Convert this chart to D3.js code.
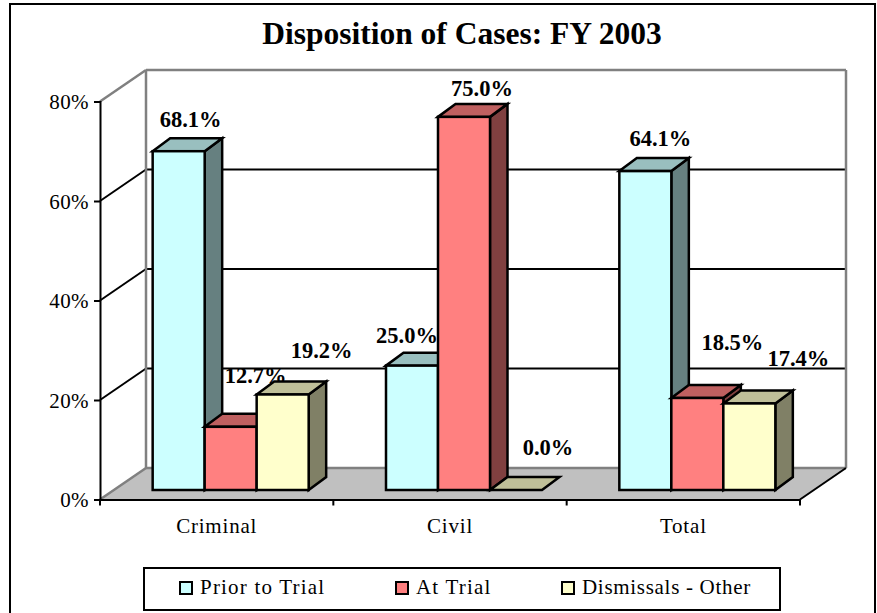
<!DOCTYPE html>
<html>
<head>
<meta charset="utf-8">
<title>Disposition of Cases: FY 2003</title>
<script src="https://cdn.jsdelivr.net/npm/d3@7"></script>
<style>
    html, body { margin: 0; padding: 0; background: white; }
    svg { display: block; }
    text { font-family: "Liberation Serif", "Times New Roman", serif; fill: #000; }
</style>
</head>
<body>
<div id="chart"></div>
<script>
const categories = ['Criminal', 'Civil', 'Total'];
const seriesNames = ['Prior to Trial', 'At Trial', 'Dismissals - Other'];
const priorToTrial = [68.1, 25.0, 64.1];
const atTrial = [12.7, 75.0, 18.5];
const dismissals = [19.2, 0.0, 17.4];
const yTicks = [0, 20, 40, 60, 80];

const seriesValues = [priorToTrial, atTrial, dismissals];
const seriesColors = ['#ccffff', '#ff8080', '#ffffcc'];

// hand placed data labels in the original, offset from the bar's top front-left corner
const labelNudge = [
    [[38, -24], [51, -44], [65, -36]],
    [[21, -23], [44, -21], [58, -35]],
    [[41, -25], [61, -48], [75, -37]]
];

let width = 877;
let height = 613;

// 3d look: the floor and wall sit up and to the right of the front plane
const depthX = 46;
const depthY = -31.5;
const barDepthX = 17.5;
const barDepthY = -13;
const barInsetX = 14;
const barInsetY = -9.5;

let svg = d3.select('#chart')
    .append('svg')
    .attr('width', width)
    .attr('height', height);

let x = d3.scaleBand().domain(categories).range([100, 800]);
let y = d3.scaleLinear().domain([0, 80]).range([499.5, 101.5]);
let xInner = d3.scaleBand().domain(d3.range(seriesNames.length)).range([0, 156]);

// chart border, open at the bottom because the picture is cut off there
svg.append('path')
    .attr('d', `M10,${height + 2}V4H875V${height + 2}`)
    .attr('fill', 'none')
    .attr('stroke', '#000')
    .attr('stroke-width', 2);

svg.append('text')
    .attr('x', 462)
    .attr('y', 44)
    .attr('text-anchor', 'middle')
    .attr('font-size', 31.5)
    .attr('font-weight', 'bold')
    .text('Disposition of Cases: FY 2003');

// floor
svg.append('polygon')
    .attr('points', [[100, y(0)], [100 + depthX, y(0) + depthY], [800 + depthX, y(0) + depthY], [800, y(0)]].join(' '))
    .attr('fill', '#c0c0c0');

// gridlines along the side wall and the back wall
let grid = svg.append('g');
yTicks.forEach(t => {
    let gy = y(t);
    let edge = t === 0 || t === 80;
    grid.append('line')
        .attr('x1', 100).attr('y1', gy)
        .attr('x2', 100 + depthX).attr('y2', gy + depthY)
        .attr('stroke', edge ? '#808080' : '#000')
        .attr('stroke-width', edge ? 2.5 : 2);
    grid.append('line')
        .attr('x1', 100 + depthX).attr('y1', gy + depthY)
        .attr('x2', 800 + depthX).attr('y2', gy + depthY)
        .attr('stroke', edge ? '#808080' : '#000')
        .attr('stroke-width', edge ? 2.5 : 2);
});
grid.append('path')
    .attr('d', `M${100 + depthX},${y(80) + depthY}V${y(0) + depthY}`)
    .attr('stroke', '#808080')
    .attr('stroke-width', 2.5);
grid.append('path')
    .attr('d', `M${800 + depthX},${y(80) + depthY}V${y(0) + depthY}`)
    .attr('fill', 'none')
    .attr('stroke', '#808080')
    .attr('stroke-width', 2.5);
grid.append('line')
    .attr('x1', 800).attr('y1', y(0))
    .attr('x2', 800 + depthX).attr('y2', y(0) + depthY)
    .attr('stroke', '#000')
    .attr('stroke-width', 2);

// axes
let yAxis = d3.axisLeft(y).tickValues(yTicks).tickFormat(d => d + '%').tickSize(6).tickPadding(5);
let gy = svg.append('g').attr('transform', 'translate(100,0)').call(yAxis);
gy.selectAll('text').attr('font-size', 21).style('letter-spacing', '0.4px').attr('dy', '0.34em');
gy.selectAll('path, line').attr('stroke', '#000').attr('stroke-width', 2);

let xAxis = d3.axisBottom(x).tickSize(0).tickPadding(19);
let gx = svg.append('g').attr('transform', `translate(0,${y(0)})`).call(xAxis);
gx.selectAll('text').attr('font-size', 21).style('letter-spacing', '0.8px');
gx.select('.domain').attr('stroke', '#000').attr('stroke-width', 2);
gx.selectAll('.tick line').remove();
gx.selectAll('.xtick')
    .data(categories.map(c => x(c)).concat(800))
    .enter().append('line')
    .attr('x1', d => d).attr('x2', d => d)
    .attr('y1', 0).attr('y2', 6)
    .attr('stroke', '#000')
    .attr('stroke-width', 2);

function shade(color, k) {
    let c = d3.rgb(color);
    return d3.rgb(c.r * k, c.g * k, c.b * k).formatHex();
}

// bars go left to right, each label right after its bar so the next bar can cover it
let base = y(0) + barInsetY;
categories.forEach((cat, ci) => {
    let left = x(cat) + barInsetX + (x.bandwidth() - xInner.range()[1]) / 2;
    seriesNames.forEach((name, si) => {
        let v = seriesValues[si][ci];
        let x0 = left + xInner(si);
        let x1 = x0 + xInner.bandwidth();
        let top = base + (y(v) - y(0));
        let g = svg.append('g')
            .attr('stroke', '#000')
            .attr('stroke-width', 2.5)
            .attr('stroke-linejoin', 'miter');

        if (v > 0) {
            g.append('polygon')
                .attr('points', [[x1, top], [x1 + barDepthX, top + barDepthY], [x1 + barDepthX, base + barDepthY], [x1, base]].join(' '))
                .attr('fill', shade(seriesColors[si], 0.5));
        }
        g.append('polygon')
            .attr('points', [[x0, top], [x0 + barDepthX, top + barDepthY], [x1 + barDepthX, top + barDepthY], [x1, top]].join(' '))
            .attr('fill', shade(seriesColors[si], 0.75));
        if (v > 0) {
            g.append('rect')
                .attr('x', x0)
                .attr('y', top)
                .attr('width', x1 - x0)
                .attr('height', base - top)
                .attr('fill', seriesColors[si]);
        }

        svg.append('text')
            .attr('x', x0 + labelNudge[ci][si][0])
            .attr('y', top + labelNudge[ci][si][1])
            .attr('text-anchor', 'middle')
            .attr('font-size', 22.5)
            .attr('font-weight', 'bold')
            .text(v.toFixed(1) + '%');
    });
});

// legend
let legend = svg.append('g');
legend.append('rect')
    .attr('x', 144).attr('y', 568)
    .attr('width', 636).attr('height', 42)
    .attr('fill', 'white')
    .attr('stroke', '#000')
    .attr('stroke-width', 2);

let legendX = d3.scaleOrdinal().domain(seriesNames).range([180, 396, 562]);
let legendSpacing = d3.scaleOrdinal().domain(seriesNames).range(['1.2px', '1.2px', '0.7px']);
seriesNames.forEach((name, i) => {
    legend.append('rect')
        .attr('x', legendX(name)).attr('y', 582)
        .attr('width', 12).attr('height', 12)
        .attr('fill', seriesColors[i])
        .attr('stroke', '#000')
        .attr('stroke-width', 2);
    legend.append('text')
        .attr('x', legendX(name) + 20)
        .attr('y', 594)
        .attr('font-size', 21)
        .style('letter-spacing', legendSpacing(name))
        .text(name);
});
</script>
</body>
</html>
